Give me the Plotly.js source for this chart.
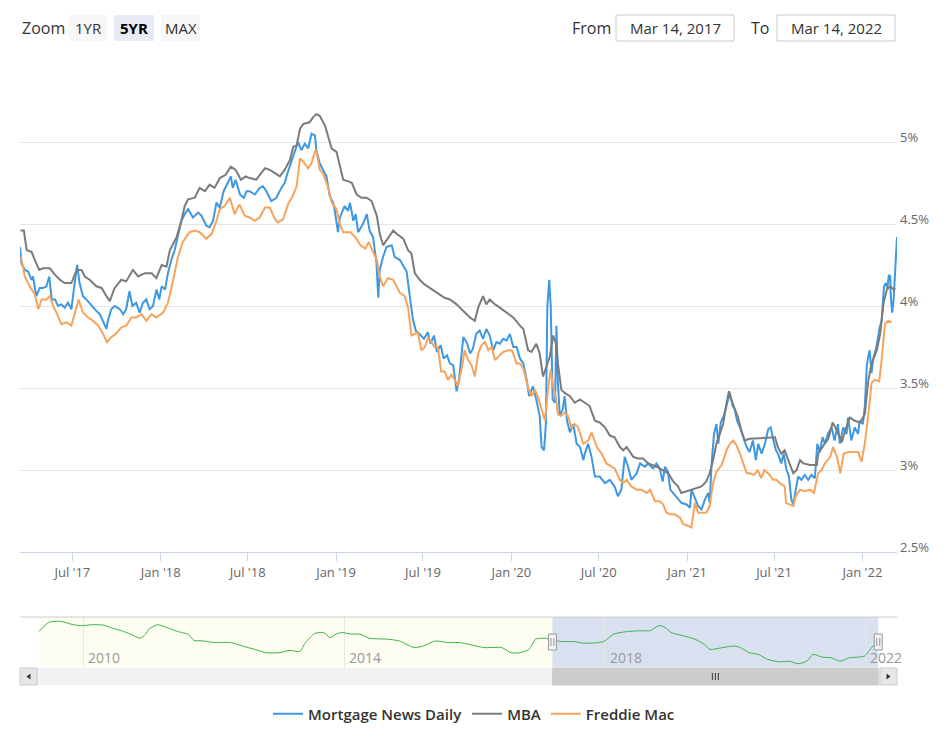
<!DOCTYPE html>
<html><head><meta charset="utf-8">
<script src="https://cdn.plot.ly/plotly-3.0.1.min.js"></script>
<style>html,body{margin:0;padding:0;background:#fff;}#chart{width:948px;height:753px;}</style>
</head><body><div id="chart"></div>
<script>
// ---------------- DATA ----------------
const seriesNames = ['Mortgage News Daily', 'MBA', 'Freddie Mac'];
const seriesColors = ['#3f97e2', '#7b7b7b', '#f7a35c'];

const mndSeries = [
['2017-03-14',4.36],['2017-03-17',4.26],['2017-03-24',4.22],['2017-03-31',4.21],['2017-04-07',4.16],['2017-04-10',4.18],['2017-04-17',4.06],['2017-04-24',4.11],['2017-05-01',4.11],['2017-05-08',4.12],['2017-05-14',4.18],['2017-05-19',4.04],['2017-05-26',4.04],['2017-06-01',4.00],['2017-06-08',4.01],['2017-06-15',3.99],['2017-06-22',4.02],['2017-06-29',3.98],['2017-07-04',4.10],['2017-07-11',4.25],['2017-07-16',4.14],['2017-07-23',4.06],['2017-07-30',4.04],['2017-08-10',4.00],['2017-08-20',3.97],['2017-08-27',3.95],['2017-09-03',3.91],['2017-09-10',3.86],['2017-09-13',3.91],['2017-09-20',3.98],['2017-09-27',4.00],['2017-10-08',3.98],['2017-10-15',3.95],['2017-10-21',3.98],['2017-10-28',4.09],['2017-11-03',4.00],['2017-11-11',4.02],['2017-11-18',3.96],['2017-11-25',4.02],['2017-12-02',4.04],['2017-12-09',3.98],['2017-12-16',4.00],['2017-12-23',4.10],['2017-12-29',4.04],
['2018-01-03',4.12],['2018-01-10',4.10],['2018-01-16',4.20],['2018-01-23',4.28],['2018-01-30',4.34],['2018-02-06',4.44],['2018-02-13',4.52],['2018-02-20',4.56],['2018-02-27',4.59],['2018-03-09',4.54],['2018-03-20',4.57],['2018-03-27',4.55],['2018-04-06',4.49],['2018-04-13',4.48],['2018-04-20',4.52],['2018-04-27',4.63],['2018-05-04',4.60],['2018-05-12',4.70],['2018-05-21',4.75],['2018-05-27',4.79],['2018-05-31',4.72],['2018-06-06',4.77],['2018-06-15',4.68],['2018-06-23',4.66],['2018-06-29',4.70],['2018-07-05',4.70],['2018-07-16',4.68],['2018-07-26',4.72],['2018-08-02',4.73],['2018-08-09',4.70],['2018-08-19',4.64],['2018-08-30',4.66],['2018-09-09',4.72],['2018-09-16',4.75],['2018-09-23',4.82],['2018-09-30',4.88],['2018-10-07',4.94],['2018-10-14',5.00],['2018-10-21',4.95],['2018-10-28',4.99],['2018-11-04',4.96],['2018-11-11',5.05],['2018-11-18',5.04],['2018-11-21',4.95],['2018-11-28',4.87],['2018-12-05',4.83],['2018-12-12',4.79],['2018-12-19',4.67],['2018-12-26',4.63],['2018-12-29',4.59],
['2019-01-05',4.45],['2019-01-09',4.54],['2019-01-19',4.61],['2019-01-26',4.58],['2019-01-30',4.63],['2019-02-06',4.52],['2019-02-11',4.56],['2019-02-16',4.45],['2019-02-26',4.50],['2019-03-06',4.56],['2019-03-12',4.46],['2019-03-19',4.42],['2019-03-26',4.27],['2019-03-30',4.05],['2019-04-02',4.22],['2019-04-09',4.30],['2019-04-16',4.36],['2019-04-27',4.37],['2019-05-03',4.30],['2019-05-14',4.28],['2019-05-21',4.24],['2019-05-28',4.21],['2019-06-04',4.05],['2019-06-10',3.92],['2019-06-16',3.85],['2019-06-24',3.83],['2019-07-03',3.80],['2019-07-11',3.84],['2019-07-17',3.77],['2019-07-24',3.82],['2019-07-30',3.72],['2019-08-07',3.76],['2019-08-13',3.68],['2019-08-20',3.70],['2019-08-26',3.65],['2019-09-02',3.64],['2019-09-09',3.48],['2019-09-14',3.55],['2019-09-23',3.81],['2019-09-30',3.78],['2019-10-07',3.71],['2019-10-13',3.74],['2019-10-20',3.83],['2019-10-27',3.85],['2019-11-03',3.80],['2019-11-10',3.86],['2019-11-17',3.82],['2019-11-24',3.73],['2019-12-01',3.78],['2019-12-08',3.77],['2019-12-15',3.80],['2019-12-22',3.79],['2019-12-29',3.83],
['2020-01-05',3.75],['2020-01-12',3.75],['2020-01-19',3.68],['2020-01-26',3.65],['2020-02-02',3.55],['2020-02-07',3.45],['2020-02-15',3.51],['2020-02-22',3.43],['2020-02-29',3.33],['2020-03-04',3.14],['2020-03-09',3.12],['2020-03-13',3.28],['2020-03-16',4.00],['2020-03-20',4.16],['2020-03-23',4.00],['2020-03-27',3.43],['2020-04-01',3.41],['2020-04-04',3.88],['2020-04-07',3.53],['2020-04-11',3.33],['2020-04-17',3.37],['2020-04-21',3.45],['2020-04-26',3.30],['2020-05-02',3.23],['2020-05-09',3.28],['2020-05-16',3.16],['2020-05-23',3.14],['2020-05-30',3.06],['2020-06-02',3.10],['2020-06-09',3.16],['2020-06-16',3.08],['2020-06-23',2.96],['2020-07-03',2.96],['2020-07-14',2.92],['2020-07-24',2.94],['2020-08-03',2.90],['2020-08-10',2.84],['2020-08-17',2.88],['2020-08-24',3.08],['2020-08-31',3.02],['2020-09-07',2.94],['2020-09-18',2.98],['2020-09-25',3.04],['2020-10-05',3.02],['2020-10-12',3.04],['2020-10-22',3.01],['2020-10-29',3.04],['2020-11-05',3.01],['2020-11-11',2.93],['2020-11-16',3.02],['2020-11-22',2.99],['2020-11-27',2.88],['2020-12-03',2.86],['2020-12-10',2.83],['2020-12-20',2.80],['2020-12-31',2.79],
['2021-01-07',2.77],['2021-01-10',2.88],['2021-01-17',2.83],['2021-01-24',2.78],['2021-01-31',2.76],['2021-02-07',2.82],['2021-02-14',2.86],['2021-02-17',2.80],['2021-02-21',3.04],['2021-02-26',3.22],['2021-03-03',3.28],['2021-03-07',3.16],['2021-03-12',3.29],['2021-03-17',3.32],['2021-03-23',3.38],['2021-03-27',3.43],['2021-03-31',3.47],['2021-04-06',3.39],['2021-04-10',3.37],['2021-04-15',3.30],['2021-04-21',3.26],['2021-04-28',3.20],['2021-05-05',3.14],['2021-05-11',3.11],['2021-05-18',3.18],['2021-05-24',3.06],['2021-05-29',3.16],['2021-06-05',3.10],['2021-06-12',3.16],['2021-06-19',3.25],['2021-06-24',3.26],['2021-06-29',3.19],['2021-07-05',3.12],['2021-07-09',3.10],['2021-07-16',3.04],['2021-07-21',3.10],['2021-07-27',3.00],['2021-08-01',2.96],['2021-08-06',2.82],['2021-08-10',2.79],['2021-08-15',2.88],['2021-08-20',2.96],['2021-08-27',2.94],['2021-09-03',2.97],['2021-09-10',2.94],['2021-09-17',2.97],['2021-09-24',2.95],['2021-09-29',3.16],['2021-10-04',3.11],['2021-10-10',3.20],['2021-10-15',3.16],['2021-10-21',3.22],['2021-10-29',3.26],['2021-11-04',3.18],['2021-11-11',3.28],['2021-11-15',3.16],['2021-11-22',3.26],['2021-11-29',3.22],['2021-12-02',3.32],['2021-12-09',3.18],['2021-12-16',3.26],['2021-12-23',3.22],['2021-12-26',3.30],
['2022-01-02',3.28],['2022-01-06',3.39],['2022-01-10',3.63],['2022-01-13',3.69],['2022-01-16',3.73],['2022-01-20',3.59],['2022-01-23',3.67],['2022-01-30',3.75],['2022-02-06',3.87],['2022-02-10',3.91],['2022-02-15',4.12],['2022-02-19',4.14],['2022-02-22',4.11],['2022-02-25',4.19],['2022-02-28',4.18],['2022-03-01',4.06],['2022-03-04',3.96],['2022-03-07',4.04],['2022-03-09',4.14],['2022-03-12',4.28],['2022-03-14',4.42]
];

const mbaSeries = [
['2017-03-15',4.46],['2017-03-22',4.46],['2017-03-28',4.34],['2017-04-07',4.33],['2017-04-14',4.28],['2017-04-23',4.22],['2017-05-01',4.23],['2017-05-15',4.23],['2017-05-26',4.19],['2017-06-05',4.16],['2017-06-15',4.14],['2017-06-29',4.14],['2017-07-10',4.22],['2017-07-20',4.22],['2017-07-27',4.18],['2017-08-06',4.16],['2017-08-20',4.12],['2017-08-31',4.11],['2017-09-10',4.06],['2017-09-17',4.03],['2017-09-27',4.11],['2017-10-11',4.16],['2017-10-21',4.15],['2017-11-04',4.22],['2017-11-15',4.18],['2017-11-29',4.20],['2017-12-13',4.20],['2017-12-23',4.17],
['2018-01-03',4.25],['2018-01-13',4.24],['2018-01-20',4.34],['2018-02-03',4.42],['2018-02-13',4.52],['2018-02-20',4.61],['2018-02-27',4.65],['2018-03-13',4.66],['2018-03-23',4.72],['2018-04-03',4.70],['2018-04-13',4.74],['2018-04-23',4.72],['2018-05-04',4.78],['2018-05-16',4.80],['2018-05-27',4.85],['2018-06-06',4.83],['2018-06-17',4.77],['2018-06-27',4.79],['2018-07-05',4.78],['2018-07-19',4.77],['2018-08-06',4.84],['2018-08-16',4.83],['2018-08-27',4.81],['2018-09-06',4.79],['2018-09-16',4.83],['2018-09-27',4.89],['2018-10-04',4.97],['2018-10-11',4.98],['2018-10-18',5.08],['2018-10-25',5.11],['2018-11-07',5.12],['2018-11-14',5.15],['2018-11-21',5.17],['2018-11-28',5.16],['2018-12-09',5.10],['2018-12-16',5.03],['2018-12-23',4.96],
['2019-01-02',4.94],['2019-01-09',4.85],['2019-01-16',4.77],['2019-01-27',4.76],['2019-02-03',4.75],['2019-02-13',4.68],['2019-02-23',4.66],['2019-03-06',4.66],['2019-03-16',4.64],['2019-03-27',4.55],['2019-04-02',4.44],['2019-04-09',4.37],['2019-04-19',4.41],['2019-04-30',4.46],['2019-05-07',4.44],['2019-05-21',4.41],['2019-05-31',4.34],['2019-06-07',4.32],['2019-06-14',4.20],['2019-06-24',4.16],['2019-07-05',4.13],['2019-07-15',4.11],['2019-07-25',4.09],['2019-08-05',4.07],['2019-08-15',4.05],['2019-08-26',4.04],['2019-09-09',4.01],['2019-09-23',3.97],['2019-10-07',3.93],['2019-10-17',3.91],['2019-10-24',3.99],['2019-11-03',4.06],['2019-11-10',4.01],['2019-11-17',4.04],['2019-11-28',4.01],['2019-12-08',3.99],['2019-12-22',3.96],
['2020-01-05',3.93],['2020-01-19',3.88],['2020-01-26',3.86],['2020-02-05',3.73],['2020-02-12',3.72],['2020-02-22',3.77],['2020-02-29',3.71],['2020-03-07',3.57],['2020-03-14',3.63],['2020-03-21',3.69],['2020-03-28',3.82],['2020-04-03',3.77],['2020-04-07',3.65],['2020-04-14',3.49],['2020-04-21',3.47],['2020-05-02',3.45],['2020-05-12',3.41],['2020-05-23',3.43],['2020-06-02',3.41],['2020-06-12',3.39],['2020-06-23',3.30],['2020-07-03',3.29],['2020-07-14',3.26],['2020-07-24',3.21],['2020-08-03',3.20],['2020-08-14',3.14],['2020-08-21',3.12],['2020-08-28',3.14],['2020-09-11',3.08],['2020-09-21',3.07],['2020-10-01',3.07],['2020-10-12',3.04],['2020-10-29',3.02],['2020-11-12',3.00],['2020-11-23',2.98],['2020-12-03',2.93],['2020-12-13',2.90],['2020-12-20',2.86],['2020-12-31',2.87],
['2021-01-10',2.88],['2021-01-21',2.89],['2021-01-31',2.90],['2021-02-10',2.93],['2021-02-17',2.98],['2021-02-24',3.06],['2021-03-03',3.16],['2021-03-10',3.22],['2021-03-17',3.28],['2021-03-23',3.39],['2021-03-29',3.48],['2021-04-03',3.43],['2021-04-10',3.38],['2021-04-17',3.32],['2021-04-24',3.24],['2021-05-01',3.18],['2021-05-11',3.19],['2021-07-03',3.20],['2021-07-09',3.14],['2021-07-16',3.10],['2021-07-23',3.12],['2021-08-03',3.04],['2021-08-10',2.98],['2021-08-17',3.00],['2021-08-24',3.06],['2021-08-31',3.04],['2021-09-14',3.03],['2021-09-28',3.03],['2021-10-01',3.10],['2021-10-12',3.15],['2021-10-22',3.19],['2021-10-31',3.29],['2021-11-09',3.24],['2021-11-19',3.17],['2021-11-26',3.24],['2021-12-06',3.32],['2021-12-16',3.30],['2021-12-27',3.29],
['2022-01-06',3.34],['2022-01-13',3.54],['2022-01-20',3.65],['2022-01-31',3.73],['2022-02-07',3.83],['2022-02-14',4.02],['2022-02-21',4.10],['2022-02-28',4.12],['2022-03-07',4.10],['2022-03-10',4.11]
];

const freddieSeries = [
['2017-03-16',4.30],['2017-03-24',4.18],['2017-04-03',4.12],['2017-04-14',4.07],['2017-04-21',3.98],['2017-04-28',4.04],['2017-05-08',4.04],['2017-05-15',4.06],['2017-05-22',4.00],['2017-05-29',3.96],['2017-06-08',3.89],['2017-06-19',3.90],['2017-06-29',3.88],['2017-07-06',3.96],['2017-07-14',4.04],['2017-07-23',3.96],['2017-08-03',3.93],['2017-08-13',3.91],['2017-08-24',3.88],['2017-09-03',3.83],['2017-09-11',3.78],['2017-09-20',3.81],['2017-09-30',3.83],['2017-10-11',3.87],['2017-10-21',3.88],['2017-11-01',3.93],['2017-11-11',3.93],['2017-11-22',3.95],['2017-12-02',3.91],['2017-12-13',3.95],['2017-12-23',3.93],
['2018-01-06',3.96],['2018-01-16',4.02],['2018-01-27',4.16],['2018-02-06',4.30],['2018-02-16',4.39],['2018-03-02',4.45],['2018-03-13',4.46],['2018-03-23',4.45],['2018-04-06',4.41],['2018-04-17',4.44],['2018-04-27',4.52],['2018-05-04',4.59],['2018-05-14',4.61],['2018-05-25',4.66],['2018-06-04',4.56],['2018-06-14',4.62],['2018-06-25',4.55],['2018-07-05',4.54],['2018-07-16',4.52],['2018-07-26',4.54],['2018-08-06',4.60],['2018-08-16',4.60],['2018-08-27',4.53],['2018-09-02',4.51],['2018-09-13',4.53],['2018-09-23',4.62],['2018-10-04',4.68],['2018-10-11',4.73],['2018-10-18',4.90],['2018-10-25',4.88],['2018-11-04',4.84],['2018-11-11',4.87],['2018-11-18',4.94],['2018-11-21',4.95],['2018-11-28',4.83],['2018-12-05',4.81],['2018-12-16',4.72],['2018-12-23',4.63],
['2019-01-02',4.59],['2019-01-09',4.50],['2019-01-16',4.45],['2019-01-31',4.45],['2019-02-10',4.42],['2019-02-21',4.37],['2019-03-03',4.35],['2019-03-10',4.39],['2019-03-16',4.35],['2019-03-27',4.28],['2019-04-02',4.18],['2019-04-09',4.12],['2019-04-19',4.17],['2019-04-30',4.16],['2019-05-14',4.08],['2019-05-24',4.06],['2019-05-31',3.99],['2019-06-07',3.82],['2019-06-20',3.84],['2019-06-28',3.73],['2019-07-05',3.75],['2019-07-12',3.81],['2019-07-25',3.75],['2019-08-01',3.75],['2019-08-08',3.60],['2019-08-15',3.60],['2019-08-22',3.55],['2019-08-29',3.58],['2019-09-05',3.55],['2019-09-12',3.51],['2019-09-19',3.61],['2019-09-26',3.73],['2019-10-03',3.67],['2019-10-10',3.64],['2019-10-17',3.57],['2019-10-24',3.71],['2019-10-31',3.76],['2019-11-07',3.78],['2019-11-14',3.73],['2019-11-21',3.75],['2019-11-28',3.67],['2019-12-05',3.69],['2019-12-15',3.72],['2019-12-26',3.73],
['2020-01-02',3.73],['2020-01-12',3.65],['2020-01-19',3.65],['2020-01-26',3.62],['2020-02-05',3.50],['2020-02-12',3.45],['2020-02-19',3.49],['2020-02-26',3.44],['2020-03-04',3.37],['2020-03-11',3.30],['2020-03-18',3.51],['2020-03-23',3.61],['2020-03-28',3.51],['2020-04-03',3.44],['2020-04-07',3.34],['2020-04-14',3.33],['2020-04-21',3.35],['2020-04-28',3.33],['2020-05-05',3.26],['2020-05-12',3.28],['2020-05-19',3.26],['2020-05-30',3.16],['2020-06-09',3.18],['2020-06-16',3.23],['2020-06-27',3.14],['2020-07-07',3.10],['2020-07-17',3.04],['2020-07-28',3.02],['2020-08-03',3.01],['2020-08-14',2.94],['2020-08-21',2.92],['2020-08-28',2.94],['2020-09-07',2.90],['2020-09-18',2.88],['2020-09-28',2.88],['2020-10-09',2.86],['2020-10-16',2.88],['2020-10-26',2.81],['2020-11-05',2.81],['2020-11-12',2.79],['2020-11-19',2.74],['2020-11-27',2.73],['2020-12-06',2.73],['2020-12-17',2.71],['2020-12-24',2.67],
['2021-01-03',2.66],['2021-01-10',2.65],['2021-01-17',2.80],['2021-01-24',2.74],['2021-01-31',2.74],['2021-02-10',2.74],['2021-02-17',2.78],['2021-02-24',2.92],['2021-03-03',2.99],['2021-03-14',3.03],['2021-03-24',3.12],['2021-03-31',3.16],['2021-04-07',3.18],['2021-04-14',3.15],['2021-04-21',3.10],['2021-04-28',3.04],['2021-05-05',2.98],['2021-05-11',2.98],['2021-05-21',2.97],['2021-05-28',3.00],['2021-06-04',2.95],['2021-06-11',3.00],['2021-06-22',2.97],['2021-06-29',2.94],['2021-07-06',2.94],['2021-07-13',2.92],['2021-07-23',2.90],['2021-07-26',2.80],['2021-08-03',2.79],['2021-08-10',2.78],['2021-08-15',2.84],['2021-08-24',2.88],['2021-09-03',2.87],['2021-09-14',2.88],['2021-09-22',2.86],['2021-10-01',2.98],['2021-10-08',3.00],['2021-10-15',3.04],['2021-10-26',3.08],['2021-11-01',3.14],['2021-11-09',3.08],['2021-11-16',2.98],['2021-11-23',3.10],['2021-12-03',3.11],['2021-12-13',3.11],['2021-12-23',3.11],['2021-12-30',3.05],
['2022-01-06',3.16],['2022-01-13',3.33],['2022-01-20',3.53],['2022-01-27',3.55],['2022-02-05',3.54],['2022-02-10',3.67],['2022-02-17',3.89],['2022-02-24',3.91],['2022-03-03',3.90]
];

const navSeries = [
['2009-04-27',4.75],['2009-06-21',5.31],['2009-08-29',5.37],['2009-11-06',5.16],['2009-12-24',5.10],['2010-02-13',5.16],['2010-04-23',5.14],['2010-06-13',4.95],['2010-08-03',4.79],['2010-09-23',4.58],['2010-11-14',4.33],['2010-12-16',4.58],['2011-01-04',4.89],['2011-02-20',5.16],['2011-04-12',5.00],['2011-06-02',4.79],['2011-07-05',4.68],['2011-08-11',4.58],['2011-09-12',4.20],['2011-11-03',4.16],['2012-01-08',4.06],['2012-04-05',4.06],['2012-06-10',3.85],['2012-08-18',3.64],['2012-10-23',3.43],['2013-01-01',3.43],['2013-03-07',3.58],['2013-04-27',3.50],['2013-05-30',4.06],['2013-07-20',4.62],['2013-09-09',4.68],['2013-10-14',4.37],['2013-11-17',4.58],['2013-12-20',4.68],['2014-02-09',4.58],['2014-04-01',4.58],['2014-05-22',4.33],['2014-09-02',4.27],['2014-11-06',4.16],['2015-01-30',3.75],['2015-03-21',3.85],['2015-05-28',4.16],['2015-08-03',4.06],['2015-10-12',4.06],['2015-12-02',3.95],['2016-02-24',3.75],['2016-06-03',3.75],['2016-07-25',3.43],['2016-09-12',3.43],['2016-11-03',3.64],['2016-12-09',4.27],['2017-01-28',4.33],['2017-03-18',4.20],['2017-05-08',4.12],['2017-07-16',4.12],['2017-09-05',4.02],['2017-11-28',4.06],['2018-01-01',4.16],['2018-02-20',4.58],['2018-05-15',4.75],['2018-08-07',4.79],['2018-09-11',4.79],['2018-10-30',5.10],['2018-12-05',5.00],['2019-01-08',4.68],['2019-03-18',4.48],['2019-05-22',4.27],['2019-07-12',3.95],['2019-08-14',3.64],['2019-10-23',3.75],['2019-12-27',3.85],['2020-02-01',3.75],['2020-03-21',3.43],['2020-05-11',3.33],['2020-07-01',3.02],['2020-09-09',2.87],['2020-10-30',2.91],['2020-12-20',2.75],['2021-02-07',2.91],['2021-03-14',3.33],['2021-05-04',3.16],['2021-06-24',3.12],['2021-08-12',2.91],['2021-10-03',3.12],['2021-11-21',3.16],['2021-12-26',3.22],['2022-02-13',3.85],['2022-03-14',4.16]
];

const xTickDates = ['2017-07-01','2018-01-01','2018-07-01','2019-01-01','2019-07-01','2020-01-01','2020-07-01','2021-01-01','2021-07-01','2022-01-01'];
const xTickLabels = ["Jul '17","Jan '18","Jul '18","Jan '19","Jul '19","Jan '20","Jul '20","Jan '21","Jul '21","Jan '22"];
const yTickValues = [2.5, 3, 3.5, 4, 4.5, 5, 5.5];
const yTickLabels = ['2.5%', '3%', '3.5%', '4%', '4.5%', '5%', ''];
const navYearTicks = ['2010-01-01','2014-01-01','2018-01-01','2022-01-01'];
const navYearLabels = ['2010','2014','2018','2022'];
const viewRange = ['2017-03-14', '2022-03-14'];
const navRange = ['2009-01-11', '2022-06-27'];
const navMid = '2019-09-13';
const zoomButtons = ['1YR', '5YR', 'MAX'];
const selectedButton = '5YR';
const fromLabel = 'Mar 14, 2017';
const toLabel = 'Mar 14, 2022';

// ---------------- LAYOUT HELPERS ----------------
const L = 20, R = 897, T = 60, B = 685;
const px = x => (x - L) / (R - L);
const py = y => (B - y) / (B - T);
const FONT = 'Open Sans, Lato, sans-serif';

const shapes = [];
const annotations = [];
function rect(x0, y0, x1, y1, fill, line, extra) {
  shapes.push(Object.assign({type: 'rect', xref: 'paper', yref: 'paper', x0: px(x0), x1: px(x1), y0: py(y1), y1: py(y0),
    fillcolor: fill, line: {color: line || fill, width: line ? 1 : 0}, layer: 'above'}, extra || {}));
}
function label(x, y, text, size, color, anchor, extra) {
  annotations.push(Object.assign({xref: 'paper', yref: 'paper', x: px(x), y: py(y), text: text, showarrow: false,
    xanchor: anchor || 'left', yanchor: 'middle', font: {family: FONT, size: size, color: color}}, extra || {}));
}

// Header: zoom buttons
label(20, 28, 'Zoom', 16, '#333');
const btnBoxes = [[69, 107], [114, 154], [161, 200]];
zoomButtons.forEach((b, i) => {
  const sel = b === selectedButton;
  rect(btnBoxes[i][0], 15, btnBoxes[i][1], 41, sel ? '#e6ebf5' : '#f7f7f7');
  label((btnBoxes[i][0] + btnBoxes[i][1]) / 2, 28, sel ? '<b>' + b + '</b>' : b, 15, sel ? '#000' : '#333', 'center');
});
// Header: date range inputs
label(570, 28, 'From', 16, '#333');
rect(616, 15, 734, 41, '#ffffff', '#cccccc');
label(675, 28, fromLabel, 15, '#333', 'center');
label(749, 28, 'To', 16, '#333');
rect(777, 15, 895, 41, '#ffffff', '#cccccc');
label(836, 28, toLabel, 15, '#333', 'center');

// Y-axis labels (Highcharts style: just above each grid line, right of the plot)
yTickValues.forEach((v, i) => {
  if (!yTickLabels[i]) return;
  annotations.push({xref: 'paper', yref: 'y', x: px(898), y: v, yshift: 5, xanchor: 'left', yanchor: 'middle',
    text: yTickLabels[i], showarrow: false, font: {family: FONT, size: 13, color: '#666666'}});
});

// Navigator backgrounds
shapes.push({type: 'rect', xref: 'x2', yref: 'paper', x0: navSeries[0][0], x1: viewRange[0], y0: py(667), y1: py(617),
  fillcolor: '#fdfdf1', line: {width: 0}, layer: 'below'});
shapes.push({type: 'rect', xref: 'x2', yref: 'paper', x0: viewRange[0], x1: viewRange[1], y0: py(667), y1: py(617),
  fillcolor: 'rgba(102,133,194,0.25)', line: {width: 0}, layer: 'below'});
shapes.push({type: 'line', xref: 'paper', yref: 'paper', x0: 0, x1: 1, y0: py(617), y1: py(617), line: {color: '#cccccc', width: 1}});

// Navigator handles
viewRange.forEach(d => {
  shapes.push({type: 'rect', xref: 'x2', yref: 'paper', xsizemode: 'pixel', ysizemode: 'pixel', xanchor: d, yanchor: py(642),
    x0: -4, x1: 4, y0: -8, y1: 8, fillcolor: '#f2f2f2', line: {color: '#999999', width: 1}, layer: 'above'});
  [-1.5, 1.5].forEach(o => shapes.push({type: 'line', xref: 'x2', yref: 'paper', xsizemode: 'pixel', ysizemode: 'pixel',
    xanchor: d, yanchor: py(642), x0: o, x1: o, y0: -4, y1: 4, line: {color: '#999999', width: 1}, layer: 'above'}));
});

// Scrollbar
rect(20, 668, 897, 685, '#f2f2f2');
shapes.push({type: 'rect', xref: 'x2', yref: 'paper', x0: viewRange[0], x1: viewRange[1], y0: py(685), y1: py(668),
  fillcolor: '#cccccc', line: {color: '#cccccc', width: 1}, layer: 'above'});
[-3, 0, 3].forEach(o => shapes.push({type: 'line', xref: 'x2', yref: 'paper', xsizemode: 'pixel', ysizemode: 'pixel',
  xanchor: navMid, yanchor: py(676.5), x0: o, x1: o, y0: -3.5, y1: 3.5, line: {color: '#333333', width: 1}, layer: 'above'}));
rect(20, 668, 37, 685, '#e6e6e6', '#cccccc');
rect(880, 668, 897, 685, '#e6e6e6', '#cccccc');
shapes.push({type: 'path', xref: 'paper', yref: 'paper', layer: 'above', fillcolor: '#333333', line: {width: 0},
  path: `M ${px(30.5)} ${py(673.5)} L ${px(26.5)} ${py(676.5)} L ${px(30.5)} ${py(679.5)} Z`});
shapes.push({type: 'path', xref: 'paper', yref: 'paper', layer: 'above', fillcolor: '#333333', line: {width: 0},
  path: `M ${px(886.5)} ${py(673.5)} L ${px(890.5)} ${py(676.5)} L ${px(886.5)} ${py(679.5)} Z`});

// Navigator year labels
navYearTicks.forEach((d, i) => annotations.push({xref: 'x2', yref: 'paper', x: d, y: py(657), xanchor: 'left', yanchor: 'middle',
  xshift: 3, text: navYearLabels[i], showarrow: false, font: {family: FONT, size: 14, color: '#999999'}}));

// ---------------- TRACES ----------------
const mainSeries = [mndSeries, mbaSeries, freddieSeries];
const traces = mainSeries.map((s, i) => ({
  type: 'scatter', mode: 'lines', name: seriesNames[i],
  x: s.map(p => p[0]), y: s.map(p => p[1]),
  line: {color: seriesColors[i], width: 2}, hoverinfo: 'skip', xaxis: 'x', yaxis: 'y'
}));
traces.push({
  type: 'scatter', mode: 'lines', name: 'navigator', showlegend: false,
  x: navSeries.map(p => p[0]), y: navSeries.map(p => p[1]),
  line: {color: '#3cb44b', width: 1, shape: 'spline', smoothing: 0.6}, hoverinfo: 'skip', xaxis: 'x2', yaxis: 'y2'
});

const layout = {
  width: 948, height: 753,
  margin: {l: L, r: 948 - R, t: T, b: 753 - B, pad: 0},
  paper_bgcolor: '#ffffff', plot_bgcolor: 'rgba(0,0,0,0)',
  showlegend: true,
  legend: {orientation: 'h', x: px(474), xanchor: 'center', y: py(714), yanchor: 'middle',
    font: {family: FONT, size: 15, color: '#333333', weight: 600}, itemwidth: 30, traceorder: 'normal', bgcolor: 'rgba(0,0,0,0)'},
  xaxis: {type: 'date', range: viewRange, domain: [0, 1], anchor: 'y',
    tickvals: xTickDates, ticktext: xTickLabels, ticks: 'outside', ticklen: 8, tickcolor: '#ccd6eb', tickwidth: 1,
    showline: true, linecolor: '#ccd6eb', linewidth: 1, showgrid: false, zeroline: false,
    tickfont: {family: FONT, size: 13, color: '#666666'}, fixedrange: true},
  yaxis: {range: [2.5, 5.5], domain: [py(552), 1], anchor: 'x', side: 'right',
    tickvals: yTickValues, ticks: '', showticklabels: false,
    showgrid: true, gridcolor: '#e6e6e6', gridwidth: 1, zeroline: false, showline: false, fixedrange: true},
  xaxis2: {type: 'date', range: navRange, domain: [0, 1], anchor: 'y2',
    tickvals: navYearTicks, showticklabels: false, ticks: '', showgrid: true, gridcolor: '#e6e6e6',
    showline: false, zeroline: false, fixedrange: true},
  yaxis2: {range: [2.55, 5.64], domain: [py(667), py(617)], anchor: 'x2',
    showgrid: false, showticklabels: false, ticks: '', zeroline: false, showline: false, fixedrange: true},
  shapes: shapes,
  annotations: annotations
};

Plotly.newPlot('chart', traces, layout, {displayModeBar: false, staticPlot: true});
</script>
</body></html>
